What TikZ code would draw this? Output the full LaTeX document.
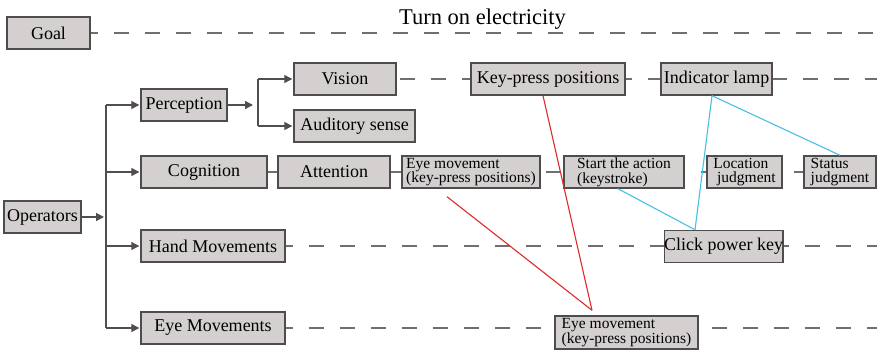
\documentclass[tikz,border=0pt]{standalone}
\usepackage{fontspec}
\setmainfont{Liberation Serif}
\usetikzlibrary{arrows.meta,backgrounds}
\definecolor{boxfill}{RGB}{213,208,208}
\definecolor{boxline}{RGB}{78,76,76}
\definecolor{conncol}{RGB}{82,78,78}
\definecolor{dashcol}{RGB}{112,110,110}
\definecolor{redc}{RGB}{222,42,42}
\definecolor{bluec}{RGB}{70,192,228}
\begin{document}
\begin{tikzpicture}[x=1pt,y=-1pt,
  box/.style={draw=boxline, fill=boxfill, line width=1.4pt, inner sep=0pt,
              font=\fontsize{18}{18}\selectfont},
  sbox/.style={box, font=\fontsize{15.5}{14.6}\selectfont, align=left},
  conn/.style={draw=conncol, line width=1.3pt},
  arr/.style={conn, -{Triangle[length=8pt,width=8pt]}},
  dline/.style={draw=dashcol, line width=1.2pt, dash pattern=on 15pt off 16pt},
  redl/.style={draw=redc, line width=1.1pt},
  bluel/.style={draw=bluec, line width=1.1pt}]
\useasboundingbox (0,0) rectangle (877,353);

% title
\node[anchor=base, font=\fontsize{22.5}{22.5}\selectfont, inner sep=0pt] (title) at (482.5,25) {Turn on electricity};

% boxes
\node[box, minimum width=83pt, minimum height=32pt] (goal) at (48.5,33) {Goal};
\node[box, minimum width=77pt, minimum height=32pt] (ops) at (42.5,217) {Operators};
\node[box, minimum width=86pt, minimum height=32pt] (perc) at (184,105) {Perception};
\node[box, minimum width=102pt, minimum height=32pt] (vision) at (345,79) {Vision};
\node[box, minimum width=121pt, minimum height=32pt] (aud) at (354.5,126) {Auditory sense};
\node[box, minimum width=154pt, minimum height=32pt] (kp) at (548,79) {Key-press positions};
\node[box, minimum width=111pt, minimum height=32pt] (lamp) at (716.5,79) {Indicator lamp};
\node[box, minimum width=126pt, minimum height=32pt] (cog) at (204,172) {Cognition};
\node[box, minimum width=112pt, minimum height=32pt] (att) at (334,172) {Attention};
\node[sbox, minimum width=138pt, minimum height=32pt] (em1) at (471,172) {Eye movement\\(key-press positions)};
\node[sbox, minimum width=120pt, minimum height=32pt] (start) at (624,172) {Start the action\\(keystroke)};
\node[sbox, minimum width=75pt, minimum height=32pt] (loc) at (744.5,172) {Location\\\ judgment};
\node[sbox, minimum width=72pt, minimum height=32pt] (stat) at (840,172) {Status\\judgment};
\node[box, minimum width=144pt, minimum height=32pt] (hand) at (213,246) {Hand Movements};
\node[box, minimum width=114pt, minimum height=32pt] (click) at (723.7,246.5) {Click power key};
\node[box, minimum width=144pt, minimum height=32pt] (eye) at (213,328) {Eye Movements};
\node[sbox, minimum width=143pt, minimum height=33pt] (em2) at (626.5,332.5) {Eye movement\\(key-press positions)};

% coordinates
\coordinate (gend) at (877,33);
\coordinate (vend) at (877,79);
\coordinate (hend) at (877,246);
\coordinate (eend) at (877,328);
\coordinate (t1) at (106,105);
\coordinate (t2) at (106,172);
\coordinate (t3) at (106,246);
\coordinate (t4) at (106,328);
\coordinate (opin) at (104,217);
\coordinate (pin) at (253,105);
\coordinate (b1) at (258,79);
\coordinate (b2) at (258,126);

% white page and dashed rows (behind boxes)
\begin{scope}[on background layer]
\fill[white] (0,0) rectangle (877,353);
\draw[dline, dash phase=8pt] (goal.east) -- (gend);
\draw[dline, dash phase=28pt] (vision.east) -- (vend);
\draw[dline, dash phase=1pt] (cog.east) -- (stat.west);
\draw[dline, dash phase=8pt] (hand.east) -- (hend);
\draw[dline, dash phase=8pt] (eye.east) -- (eend);
\end{scope}

% tree connectors
\draw[conn] (t1) -- (t4);
\draw[arr] (ops.east) -- (opin);
\draw[arr, shorten >=1pt] (t1) -- (perc.west);
\draw[arr, shorten >=1pt] (t2) -- (cog.west);
\draw[arr, shorten >=1pt] (t3) -- (hand.west);
\draw[arr, shorten >=1pt] (t4) -- (eye.west);
\draw[arr] (perc.east) -- (pin);
\draw[conn] (b1) -- (b2);
\draw[arr, shorten >=1pt] (b1) -- (vision.west);
\draw[arr, shorten >=1pt] (b2) -- (aud.west);

% red links
\draw[redl] ([xshift=-5pt]kp.south) -- ([xshift=-34.5pt,yshift=5pt]em2.north);
\draw[redl] ([xshift=-24pt,yshift=-8pt]em1.south) -- ([xshift=-34.5pt,yshift=5pt]em2.north);

% blue links
\draw[bluel] ([xshift=-4.5pt]lamp.south) -- ([xshift=-28.7pt]click.north);
\draw[bluel] ([xshift=-4.5pt]lamp.south) -- (stat.north);
\draw[bluel] ([xshift=-6pt]start.south) -- ([xshift=-28.7pt]click.north);
\end{tikzpicture}
\end{document}
